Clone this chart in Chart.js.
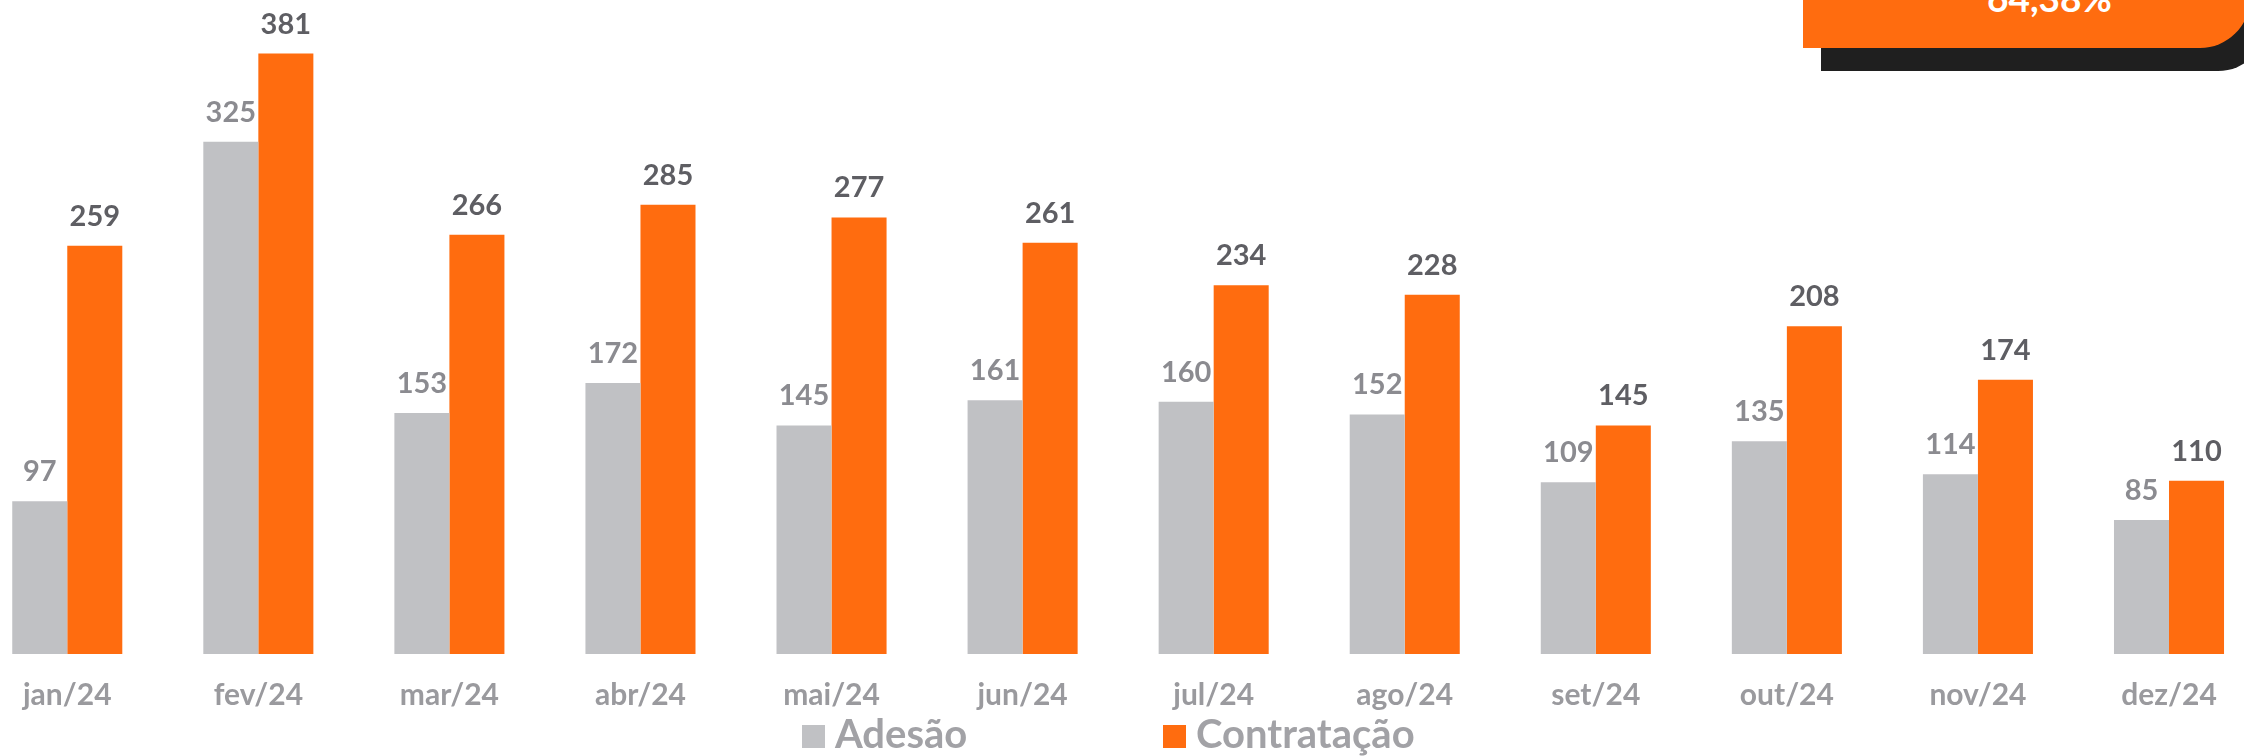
<!DOCTYPE html>
<html>
<head>
<meta charset="utf-8">
<script src="https://cdn.jsdelivr.net/npm/chart.js@4"></script>
<style>
    body { margin: 0; background: #fff; overflow: hidden; }
    #wrap { position: relative; width: 2244px; height: 756px; overflow: hidden; }
    #badge-shadow {
        position: absolute; left: 1821px; top: -60px; width: 447px; height: 131px;
        background: #1f1f1f; border-bottom-right-radius: 50px;
    }
    #badge {
        position: absolute; left: 1803px; top: -60px; width: 447px; height: 108px;
        background: #ff6c0f; border-bottom-right-radius: 50px;
    }
    #badge span {
        position: absolute; left: 184px; top: 39px;
        font: bold 37px Lato, sans-serif; line-height: 37px; color: #fff;
    }
</style>
</head>
<body>
<div id="wrap">
    <canvas id="chart" width="2244" height="756"></canvas>
    <div id="badge-shadow"></div>
    <div id="badge"><span>64,38%</span></div>
</div>
<script>
const months = ['jan/24', 'fev/24', 'mar/24', 'abr/24', 'mai/24', 'jun/24',
                'jul/24', 'ago/24', 'set/24', 'out/24', 'nov/24', 'dez/24'];
const adesao = [97, 325, 153, 172, 145, 161, 160, 152, 109, 135, 114, 85];
const contratacao = [259, 381, 266, 285, 277, 261, 234, 228, 145, 208, 174, 110];
const seriesNames = ['Adesão', 'Contratação'];

const GRAY = '#c0c1c4';
const ORANGE = '#ff6c0f';

// value labels above each bar
const barLabels = {
    id: 'barLabels',
    afterDatasetsDraw(chart) {
        const ctx = chart.ctx;
        ctx.save();
        ctx.font = 'bold 29px Lato, sans-serif';
        ctx.textAlign = 'center';
        ctx.textBaseline = 'alphabetic';
        chart.data.datasets.forEach((ds, i) => {
            ctx.fillStyle = ds.labelColor;
            chart.getDatasetMeta(i).data.forEach((bar, j) => {
                ctx.fillText(ds.data[j], bar.x, bar.y - 20);
            });
        });
        ctx.restore();
    }
};

// legend row under the axis
const legendRow = {
    id: 'legendRow',
    afterDraw(chart) {
        const ctx = chart.ctx;
        const xs = [802, 1163];
        ctx.save();
        ctx.font = 'bold 40px Lato, sans-serif';
        ctx.textBaseline = 'alphabetic';
        chart.data.datasets.forEach((ds, i) => {
            ctx.fillStyle = ds.backgroundColor;
            ctx.fillRect(xs[i], 725, 23, 23);
            ctx.fillStyle = '#a2a2a6';
            ctx.fillText(ds.label, xs[i] + 33, 747.5);
        });
        ctx.restore();
    }
};

new Chart(document.getElementById('chart'), {
    type: 'bar',
    data: {
        labels: months,
        datasets: [{
            label: seriesNames[0],
            data: adesao,
            backgroundColor: GRAY,
            labelColor: '#8b8b90',
            barPercentage: 1,
            categoryPercentage: 0.576,
            clip: false
        }, {
            label: seriesNames[1],
            data: contratacao,
            backgroundColor: ORANGE,
            labelColor: '#5e5e63',
            barPercentage: 1,
            categoryPercentage: 0.576,
            clip: false
        }]
    },
    options: {
        responsive: false,
        animation: false,
        layout: { padding: { left: 67, right: 75, top: 0, bottom: 44 } },
        scales: {
            x: {
                offset: false,
                grid: { display: false, drawTicks: false },
                border: { display: false },
                afterFit(scale) { scale.height = 58; },
                ticks: {
                    autoSkip: false,
                    maxRotation: 0,
                    padding: 23,
                    color: '#9a9a9e',
                    font: { family: 'Lato', weight: 'bold', size: 30 }
                }
            },
            y: { display: false, min: 0, max: 415 }
        },
        plugins: {
            legend: { display: false },
            tooltip: { enabled: false }
        }
    },
    plugins: [barLabels, legendRow]
});
</script>
</body>
</html>
